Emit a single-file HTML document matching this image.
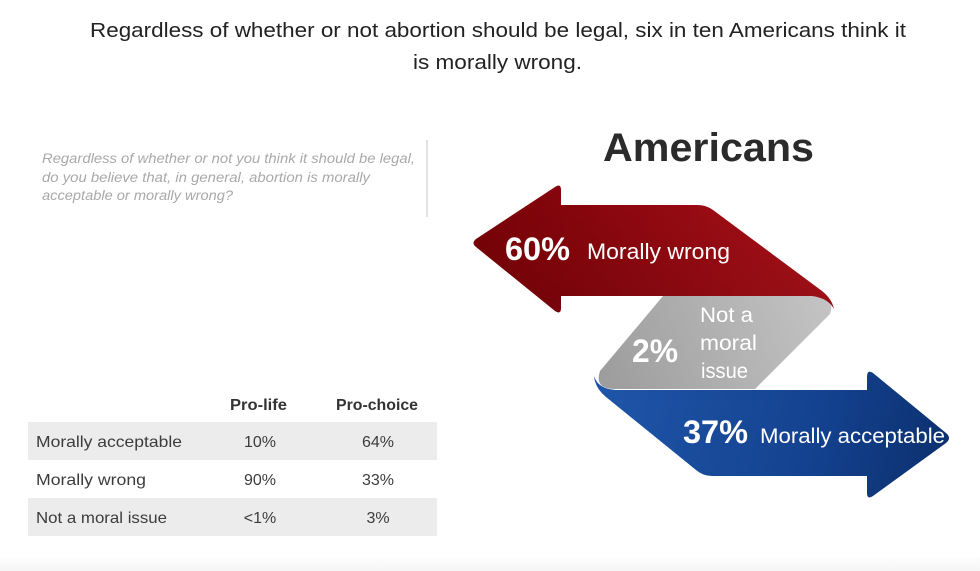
<!DOCTYPE html>
<html>
<head>
<meta charset="utf-8">
<style>
  html, body { margin:0; padding:0; background:#ffffff; }
  body { width:980px; height:571px; overflow:hidden; }
  svg { display:block; }
  text { font-family: "Liberation Sans", "DejaVu Sans", sans-serif; }
</style>
</head>
<body>
<svg width="980" height="571" viewBox="0 0 980 571" xmlns="http://www.w3.org/2000/svg">
  <defs>
    <linearGradient id="redG" x1="472" y1="250" x2="833" y2="250" gradientUnits="userSpaceOnUse">
      <stop offset="0" stop-color="#7a0207"/>
      <stop offset="0.45" stop-color="#910810"/>
      <stop offset="1" stop-color="#ae1119"/>
    </linearGradient>
    <linearGradient id="redV" x1="0" y1="185" x2="0" y2="313" gradientUnits="userSpaceOnUse">
      <stop offset="0" stop-color="#000" stop-opacity="0"/>
      <stop offset="1" stop-color="#000" stop-opacity="0.12"/>
    </linearGradient>
    <linearGradient id="greyG" x1="600" y1="389" x2="830" y2="296" gradientUnits="userSpaceOnUse">
      <stop offset="0" stop-color="#9c9c9c"/>
      <stop offset="1" stop-color="#c4c4c4"/>
    </linearGradient>
    <linearGradient id="blueG" x1="600" y1="390" x2="950" y2="480" gradientUnits="userSpaceOnUse">
      <stop offset="0" stop-color="#1f55a8"/>
      <stop offset="0.6" stop-color="#144290"/>
      <stop offset="1" stop-color="#0b2f6c"/>
    </linearGradient>
    <linearGradient id="bottomG" x1="0" y1="556" x2="0" y2="571" gradientUnits="userSpaceOnUse">
      <stop offset="0" stop-color="#ffffff"/>
      <stop offset="1" stop-color="#f5f5f5"/>
    </linearGradient>
  </defs>

  <rect x="0" y="0" width="980" height="571" fill="#ffffff"/>
  <rect x="0" y="556" width="980" height="15" fill="url(#bottomG)"/>

  <!-- Title -->
  <text x="90" y="37" font-size="20" fill="#222" textLength="816" lengthAdjust="spacingAndGlyphs">Regardless of whether or not abortion should be legal, six in ten Americans think it</text>
  <text x="413" y="69" font-size="20" fill="#222" textLength="169" lengthAdjust="spacingAndGlyphs">is morally wrong.</text>

  <!-- Question -->
  <g font-style="italic" font-size="13.5" fill="#a9a9a9">
    <text x="42" y="163" textLength="373" lengthAdjust="spacingAndGlyphs">Regardless of whether or not you think it should be legal,</text>
    <text x="42" y="182" textLength="328" lengthAdjust="spacingAndGlyphs">do you believe that, in general, abortion is morally</text>
    <text x="42" y="200" textLength="191" lengthAdjust="spacingAndGlyphs">acceptable or morally wrong?</text>
  </g>
  <line x1="427" y1="140" x2="427" y2="217" stroke="#d9d9d9" stroke-width="1.5"/>

  <!-- Americans -->
  <text x="603" y="161" font-size="40" font-weight="bold" fill="#2b2b2b" textLength="211" lengthAdjust="spacingAndGlyphs">Americans</text>

  <!-- Grey middle band -->
  <path d="M663,296 L815,296 Q836,298 830,314 L755,389 L615,389 Q594,389 600,371 Z" fill="url(#greyG)"/>

  <!-- Red arrow -->
  <path d="M476,239 L555,187 Q561,183 561,190 L561,205 L698,205 Q706,205 713,210 L822,291 Q832,299 834,309 Q828,298 812,296 L561,296 L561,308 Q561,315 555,311 L476,247 Q471,243 476,239 Z" fill="url(#redG)"/>
  <path d="M476,239 L555,187 Q561,183 561,190 L561,205 L698,205 Q706,205 713,210 L822,291 Q832,299 834,309 Q828,298 812,296 L561,296 L561,308 Q561,315 555,311 L476,247 Q471,243 476,239 Z" fill="url(#redV)"/>

  <!-- Blue arrow -->
  <path d="M594,376 Q598,389 616,390 L867,390 L867,377 Q867,369 873,373 L946,433 Q952,438 946,443 L873,496 Q867,500 867,493 L867,476 L712,476 Q703,476 696,470 L606,397 Q595,388 594,376 Z" fill="url(#blueG)"/>

  <!-- Arrow labels -->
  <g fill="#ffffff">
    <text x="505" y="260" font-size="32" font-weight="bold" textLength="65" lengthAdjust="spacingAndGlyphs">60%</text>
    <text x="587" y="259" font-size="22" textLength="143" lengthAdjust="spacingAndGlyphs">Morally wrong</text>

    <text x="632" y="362" font-size="32" font-weight="bold" textLength="46" lengthAdjust="spacingAndGlyphs">2%</text>
    <text x="700" y="322" font-size="21" textLength="53" lengthAdjust="spacingAndGlyphs">Not a</text>
    <text x="700" y="350" font-size="21" textLength="57" lengthAdjust="spacingAndGlyphs">moral</text>
    <text x="701" y="378" font-size="21" textLength="47" lengthAdjust="spacingAndGlyphs">issue</text>

    <text x="683" y="443" font-size="32" font-weight="bold" textLength="65" lengthAdjust="spacingAndGlyphs">37%</text>
    <text x="760" y="443" font-size="21" textLength="185" lengthAdjust="spacingAndGlyphs">Morally acceptable</text>
  </g>

  <!-- Table -->
  <rect x="28" y="422" width="409" height="38" fill="#ececec"/>
  <rect x="28" y="498" width="409" height="38" fill="#ececec"/>
  <g font-size="16" font-weight="bold" fill="#333">
    <text x="230" y="410" textLength="57" lengthAdjust="spacingAndGlyphs">Pro-life</text>
    <text x="336" y="410" textLength="82" lengthAdjust="spacingAndGlyphs">Pro-choice</text>
  </g>
  <g font-size="16" fill="#3c3c3c">
    <text x="36" y="447" textLength="146" lengthAdjust="spacingAndGlyphs">Morally acceptable</text>
    <text x="36" y="485" textLength="110" lengthAdjust="spacingAndGlyphs">Morally wrong</text>
    <text x="36" y="523" textLength="131" lengthAdjust="spacingAndGlyphs">Not a moral issue</text>

    <text x="260" y="447" text-anchor="middle">10%</text>
    <text x="378" y="447" text-anchor="middle">64%</text>
    <text x="260" y="485" text-anchor="middle">90%</text>
    <text x="378" y="485" text-anchor="middle">33%</text>
    <text x="260" y="523" text-anchor="middle">&lt;1%</text>
    <text x="378" y="523" text-anchor="middle">3%</text>
  </g>
</svg>
</body>
</html>
